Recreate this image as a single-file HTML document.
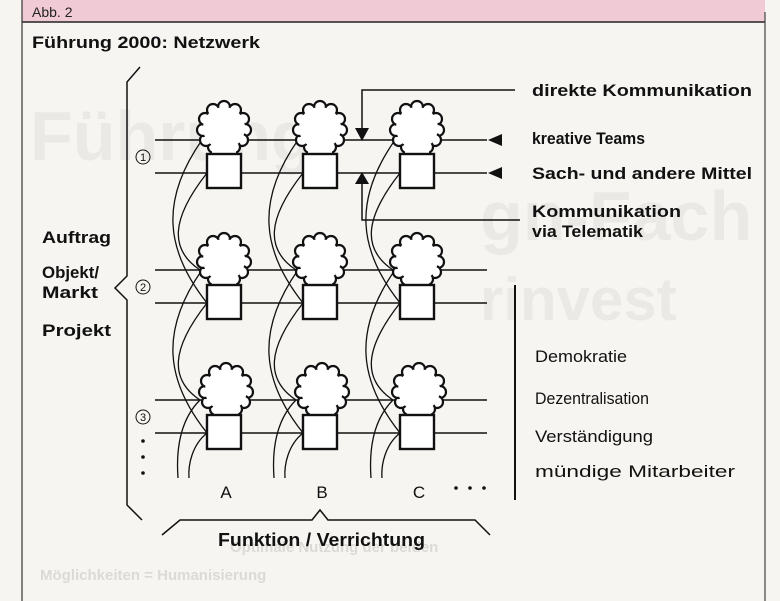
<!DOCTYPE html>
<html><head><meta charset="utf-8"><style>
html,body{margin:0;padding:0;background:#f6f5f2;}
body{width:780px;height:601px;overflow:hidden;position:relative;font-family:"Liberation Sans",sans-serif;}
</style></head><body>
<svg width="780" height="601" viewBox="0 0 780 601" xmlns="http://www.w3.org/2000/svg" style="position:absolute;left:0;top:0">
<defs>
<g id="cloud">
 <circle cx="0" cy="-21" r="6" fill="#fff" stroke="#111" stroke-width="2.2"/>
 <circle cx="11" cy="-18" r="6" fill="#fff" stroke="#111" stroke-width="2.2"/>
 <circle cx="19" cy="-9" r="6" fill="#fff" stroke="#111" stroke-width="2.2"/>
 <circle cx="21" cy="2" r="6" fill="#fff" stroke="#111" stroke-width="2.2"/>
 <circle cx="18" cy="12" r="6" fill="#fff" stroke="#111" stroke-width="2.2"/>
 <circle cx="10" cy="19" r="6" fill="#fff" stroke="#111" stroke-width="2.2"/>
 <circle cx="-10" cy="19" r="6" fill="#fff" stroke="#111" stroke-width="2.2"/>
 <circle cx="-18" cy="12" r="6" fill="#fff" stroke="#111" stroke-width="2.2"/>
 <circle cx="-21" cy="2" r="6" fill="#fff" stroke="#111" stroke-width="2.2"/>
 <circle cx="-19" cy="-9" r="6" fill="#fff" stroke="#111" stroke-width="2.2"/>
 <circle cx="-11" cy="-18" r="6" fill="#fff" stroke="#111" stroke-width="2.2"/>
 <circle cx="0" cy="0" r="21" fill="#fff"/>
 <rect x="-12" y="15" width="24" height="12" fill="#fff"/>
</g>
<g id="curves" stroke="#111" fill="none" stroke-width="1.3">
 <path d="M202,140 C160,200 165,250 207,303"/>
 <path d="M207,173 C170,220 170,250 200,270"/>
 <path d="M202,270 C160,330 165,380 207,433"/>
 <path d="M207,303 C170,350 170,380 200,400"/>
 <path d="M200,400 C180,420 176,450 178,478"/>
 <path d="M207,433 C192,445 188,465 189,478"/>
</g>
</defs>
<rect x="0" y="0" width="780" height="601" fill="#f6f5f2"/>
<g fill="#ebe9e5" font-family="Liberation Sans" font-weight="bold">
<text x="30" y="160" font-size="70">Führung</text>
<text x="480" y="240" font-size="70">gn-Fach</text>
<text x="480" y="320" font-size="60">rinvest</text>
</g>
<g fill="#dcdad6" font-size="15" font-weight="bold">
<text x="230" y="552">Optimale Nutzung der beiden</text>
<text x="40" y="580">Möglichkeiten = Humanisierung</text>
</g>
<rect x="22" y="0" width="743" height="22" fill="#f0cbd6"/>
<line x1="22" y1="22" x2="765" y2="22" stroke="#222" stroke-width="1.5"/>
<line x1="22" y1="0" x2="22" y2="601" stroke="#333" stroke-width="1.2"/>
<line x1="765" y1="12" x2="765" y2="601" stroke="#444" stroke-width="1.2"/>
<text x="32" y="17" font-size="14" fill="#222">Abb. 2</text>
<text x="32" y="48" font-size="17" font-weight="bold" fill="#111" textLength="228" lengthAdjust="spacingAndGlyphs">Führung 2000: Netzwerk</text>

<g stroke="#111" fill="none" stroke-width="1.5">
<polyline points="140,67 127,82 127,276 115,288 127,300 127,505 142,520"/>
<polyline points="162,535 180,520 312,520 320,510 328,520 475,520 490,535"/>
<line x1="515" y1="285" x2="515" y2="500" stroke-width="2"/>
<line x1="155" y1="140" x2="487" y2="140"/>
<line x1="155" y1="173" x2="487" y2="173"/>
<line x1="155" y1="270" x2="487" y2="270"/>
<line x1="155" y1="303" x2="487" y2="303"/>
<line x1="155" y1="400" x2="487" y2="400"/>
<line x1="155" y1="433" x2="487" y2="433"/>
<polyline points="515,90 362,90 362,130"/>
<polyline points="520,220 362,220 362,182"/>
</g>
<g fill="#111">
<polygon points="355,128 369,128 362,141"/>
<polygon points="355,184 369,184 362,172"/>
<polygon points="488,140 502,134 502,146"/>
<polygon points="488,173 502,167 502,179"/>
</g>

<use href="#curves"/>
<use href="#curves" x="96"/>
<use href="#curves" x="193"/>

<g>
<use href="#cloud" x="224" y="128"/><rect x="207" y="154" width="34" height="34" fill="#fff" stroke="#111" stroke-width="2.4"/>
<use href="#cloud" x="320" y="128"/><rect x="303" y="154" width="34" height="34" fill="#fff" stroke="#111" stroke-width="2.4"/>
<use href="#cloud" x="417" y="128"/><rect x="400" y="154" width="34" height="34" fill="#fff" stroke="#111" stroke-width="2.4"/>
<use href="#cloud" x="224" y="260"/><rect x="207" y="285" width="34" height="34" fill="#fff" stroke="#111" stroke-width="2.4"/>
<use href="#cloud" x="320" y="260"/><rect x="303" y="285" width="34" height="34" fill="#fff" stroke="#111" stroke-width="2.4"/>
<use href="#cloud" x="417" y="260"/><rect x="400" y="285" width="34" height="34" fill="#fff" stroke="#111" stroke-width="2.4"/>
<use href="#cloud" x="226" y="390"/><rect x="207" y="415" width="34" height="34" fill="#fff" stroke="#111" stroke-width="2.4"/>
<use href="#cloud" x="322" y="390"/><rect x="303" y="415" width="34" height="34" fill="#fff" stroke="#111" stroke-width="2.4"/>
<use href="#cloud" x="419" y="390"/><rect x="400" y="415" width="34" height="34" fill="#fff" stroke="#111" stroke-width="2.4"/>
</g>

<g fill="none" stroke="#111" stroke-width="1"><circle cx="143" cy="157" r="7"/><circle cx="143" cy="287" r="7"/><circle cx="143" cy="417" r="7"/></g>
<g font-size="11" fill="#111" text-anchor="middle"><text x="143" y="161">1</text><text x="143" y="291">2</text><text x="143" y="421">3</text></g>
<g fill="#111"><circle cx="143" cy="441" r="1.8"/><circle cx="143" cy="457" r="1.8"/><circle cx="143" cy="473" r="1.8"/>
<circle cx="456" cy="488" r="1.8"/><circle cx="470" cy="488" r="1.8"/><circle cx="484" cy="488" r="1.8"/></g>

<g font-size="17" font-weight="bold" fill="#111">
<text x="42" y="243" textLength="69" lengthAdjust="spacingAndGlyphs">Auftrag</text>
<text x="42" y="278" textLength="57" lengthAdjust="spacingAndGlyphs">Objekt/</text>
<text x="42" y="298" textLength="56" lengthAdjust="spacingAndGlyphs">Markt</text>
<text x="42" y="336" textLength="69" lengthAdjust="spacingAndGlyphs">Projekt</text>
<text x="532" y="96" textLength="220" lengthAdjust="spacingAndGlyphs">direkte Kommunikation</text>
<text x="532" y="144" textLength="113" lengthAdjust="spacingAndGlyphs">kreative Teams</text>
<text x="532" y="179" textLength="220" lengthAdjust="spacingAndGlyphs">Sach- und andere Mittel</text>
<text x="532" y="217" textLength="149" lengthAdjust="spacingAndGlyphs">Kommunikation</text>
<text x="532" y="237" textLength="111" lengthAdjust="spacingAndGlyphs">via Telematik</text>
<text x="218" y="546" font-size="18" textLength="207" lengthAdjust="spacingAndGlyphs">Funktion / Verrichtung</text>
</g>
<g font-size="17" fill="#111">
<text x="535" y="362" textLength="92" lengthAdjust="spacingAndGlyphs">Demokratie</text>
<text x="535" y="404" textLength="114" lengthAdjust="spacingAndGlyphs">Dezentralisation</text>
<text x="535" y="442" textLength="118" lengthAdjust="spacingAndGlyphs">Verständigung</text>
<text x="535" y="477" textLength="200" lengthAdjust="spacingAndGlyphs">mündige Mitarbeiter</text>
<text x="226" y="498" text-anchor="middle">A</text>
<text x="322" y="498" text-anchor="middle">B</text>
<text x="419" y="498" text-anchor="middle">C</text>
</g>
</svg>
</body></html>
